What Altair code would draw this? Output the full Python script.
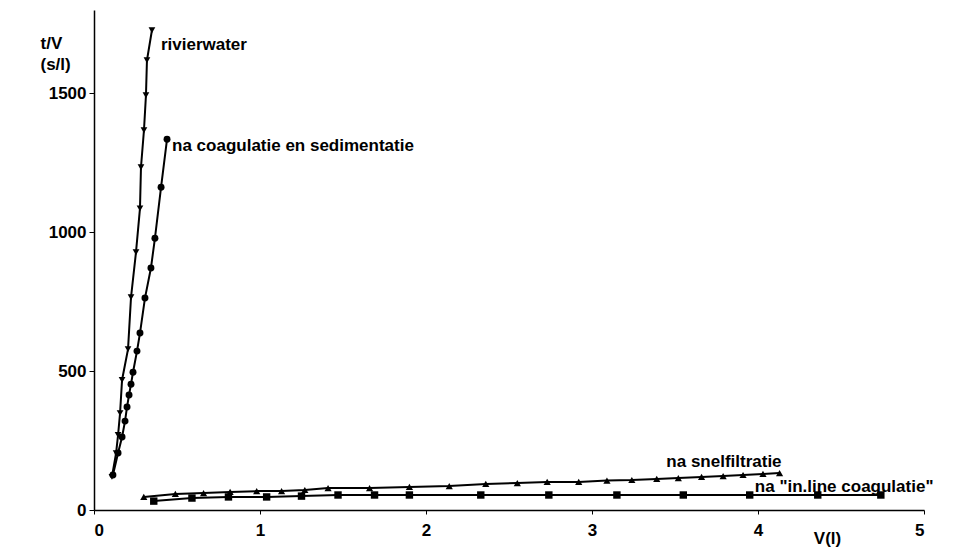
import altair as alt
import pandas as pd

# Filtration measurements: t/V (s/l) against filtered volume V (l)
riv_v = [0.108, 0.133, 0.145, 0.157, 0.169, 0.205, 0.223, 0.253, 0.277, 0.283, 0.301, 0.313, 0.319, 0.349]
riv_t = [119, 205, 270, 349, 468, 579, 766, 928, 1086, 1234, 1367, 1493, 1619, 1727]

sed_v = [0.114, 0.145, 0.169, 0.187, 0.199, 0.211, 0.223, 0.235, 0.259, 0.277, 0.307, 0.343, 0.367, 0.404, 0.440]
sed_t = [126, 205, 263, 320, 371, 414, 453, 496, 572, 637, 763, 871, 978, 1162, 1335]

snel_v = [0.30, 0.49, 0.66, 0.82, 0.98, 1.13, 1.27, 1.41, 1.66, 1.90, 2.14, 2.36, 2.55, 2.73, 2.92,
          3.09, 3.24, 3.39, 3.52, 3.66, 3.79, 3.91, 4.03, 4.13]
snel_t = [47, 58, 61, 65, 68, 68, 72, 79, 79, 83, 86, 94, 97, 101, 101,
          106, 108, 112, 115, 119, 122, 126, 130, 133]

inl_v = [0.36, 0.59, 0.81, 1.04, 1.25, 1.47, 1.69, 1.90, 2.33, 2.74, 3.15, 3.55, 3.95, 4.36, 4.74]
inl_t = [32, 43, 47, 47, 50, 54, 54, 54, 54, 54, 54, 54, 54, 54, 54]

series_names = ["rivierwater", "na coagulatie en sedimentatie", "na snelfiltratie", "na \"in.line coagulatie\""]
series_shapes = ["triangle-down", "circle", "triangle-up", "square"]
series_sizes = [45, 55, 35, 45]

rows = []
for name, vs, ts in zip(series_names, [riv_v, sed_v, snel_v, inl_v], [riv_t, sed_t, snel_t, inl_t]):
    for i, (v, t) in enumerate(zip(vs, ts)):
        rows.append({"reeks": name, "V": v, "T": t, "i": i})
df = pd.DataFrame(rows)

# End-of-curve labels, anchored to each series' last point
label_dx = [9, 5, 2, -126]
label_dy = [15, 7, -11, -8]
label_align = ["left", "left", "right", "left"]
ends = df.sort_values("i").groupby("reeks", sort=False).tail(1).set_index("reeks").loc[series_names].reset_index()

FONT = "Liberation Sans"

x_scale = alt.Scale(domain=[0, 5], nice=False, zero=True)
y_scale = alt.Scale(domain=[0, 1800], nice=False)

base = alt.Chart(df).encode(
    x=alt.X("V:Q", scale=x_scale,
            axis=alt.Axis(values=[0, 1, 2, 3, 4, 5], format="d", title="V(l)",
                          titleX=733, titleY=28, titleAlign="center", titleBaseline="middle",
                          titleFont=FONT, titleFontSize=17, titleFontWeight="bold",
                          labelFont=FONT, labelFontSize=17, labelFontWeight="bold",
                          labelPadding=8, tickSize=4, domainColor="black", tickColor="black",
                          domainWidth=1.5, labelColor="black", titleColor="black", grid=False)),
    y=alt.Y("T:Q", scale=y_scale,
            axis=alt.Axis(values=[0, 500, 1000, 1500], format="d", title=["t/V", "(s/l)"],
                          titleAngle=0, titleX=-54, titleY=25, titleAlign="left", titleBaseline="top",
                          titleLineHeight=21,
                          titleFont=FONT, titleFontSize=17, titleFontWeight="bold",
                          labelFont=FONT, labelFontSize=17, labelFontWeight="bold",
                          labelPadding=3, tickSize=5, domainColor="black", tickColor="black",
                          domainWidth=1.5, labelColor="black", titleColor="black", grid=False)),
)

lines = base.mark_line(color="black", strokeWidth=2).encode(
    detail="reeks:N", order="i:Q"
)

points = base.mark_point(filled=True, color="black", opacity=1).encode(
    shape=alt.Shape("reeks:N", scale=alt.Scale(domain=series_names, range=series_shapes), legend=None),
    size=alt.Size("reeks:N", scale=alt.Scale(domain=series_names, range=series_sizes), legend=None),
)

labels = []
for k, name in enumerate(series_names):
    labels.append(
        alt.Chart(ends[ends["reeks"] == name]).mark_text(
            font=FONT, fontSize=17, fontWeight="bold", color="black",
            align=label_align[k], baseline="middle", dx=label_dx[k], dy=label_dy[k]
        ).encode(x=alt.X("V:Q", scale=x_scale), y=alt.Y("T:Q", scale=y_scale), text="reeks:N")
    )

chart = alt.layer(lines, points, *labels).properties(
    width=830, height=500,
    padding={"left": 94, "top": 10, "right": 33, "bottom": 43},
    autosize=alt.AutoSizeParams(type="none"),
    background="white",
).configure_view(stroke=None)

chart.save("out.html", embed_options={"renderer": "svg", "actions": False})
